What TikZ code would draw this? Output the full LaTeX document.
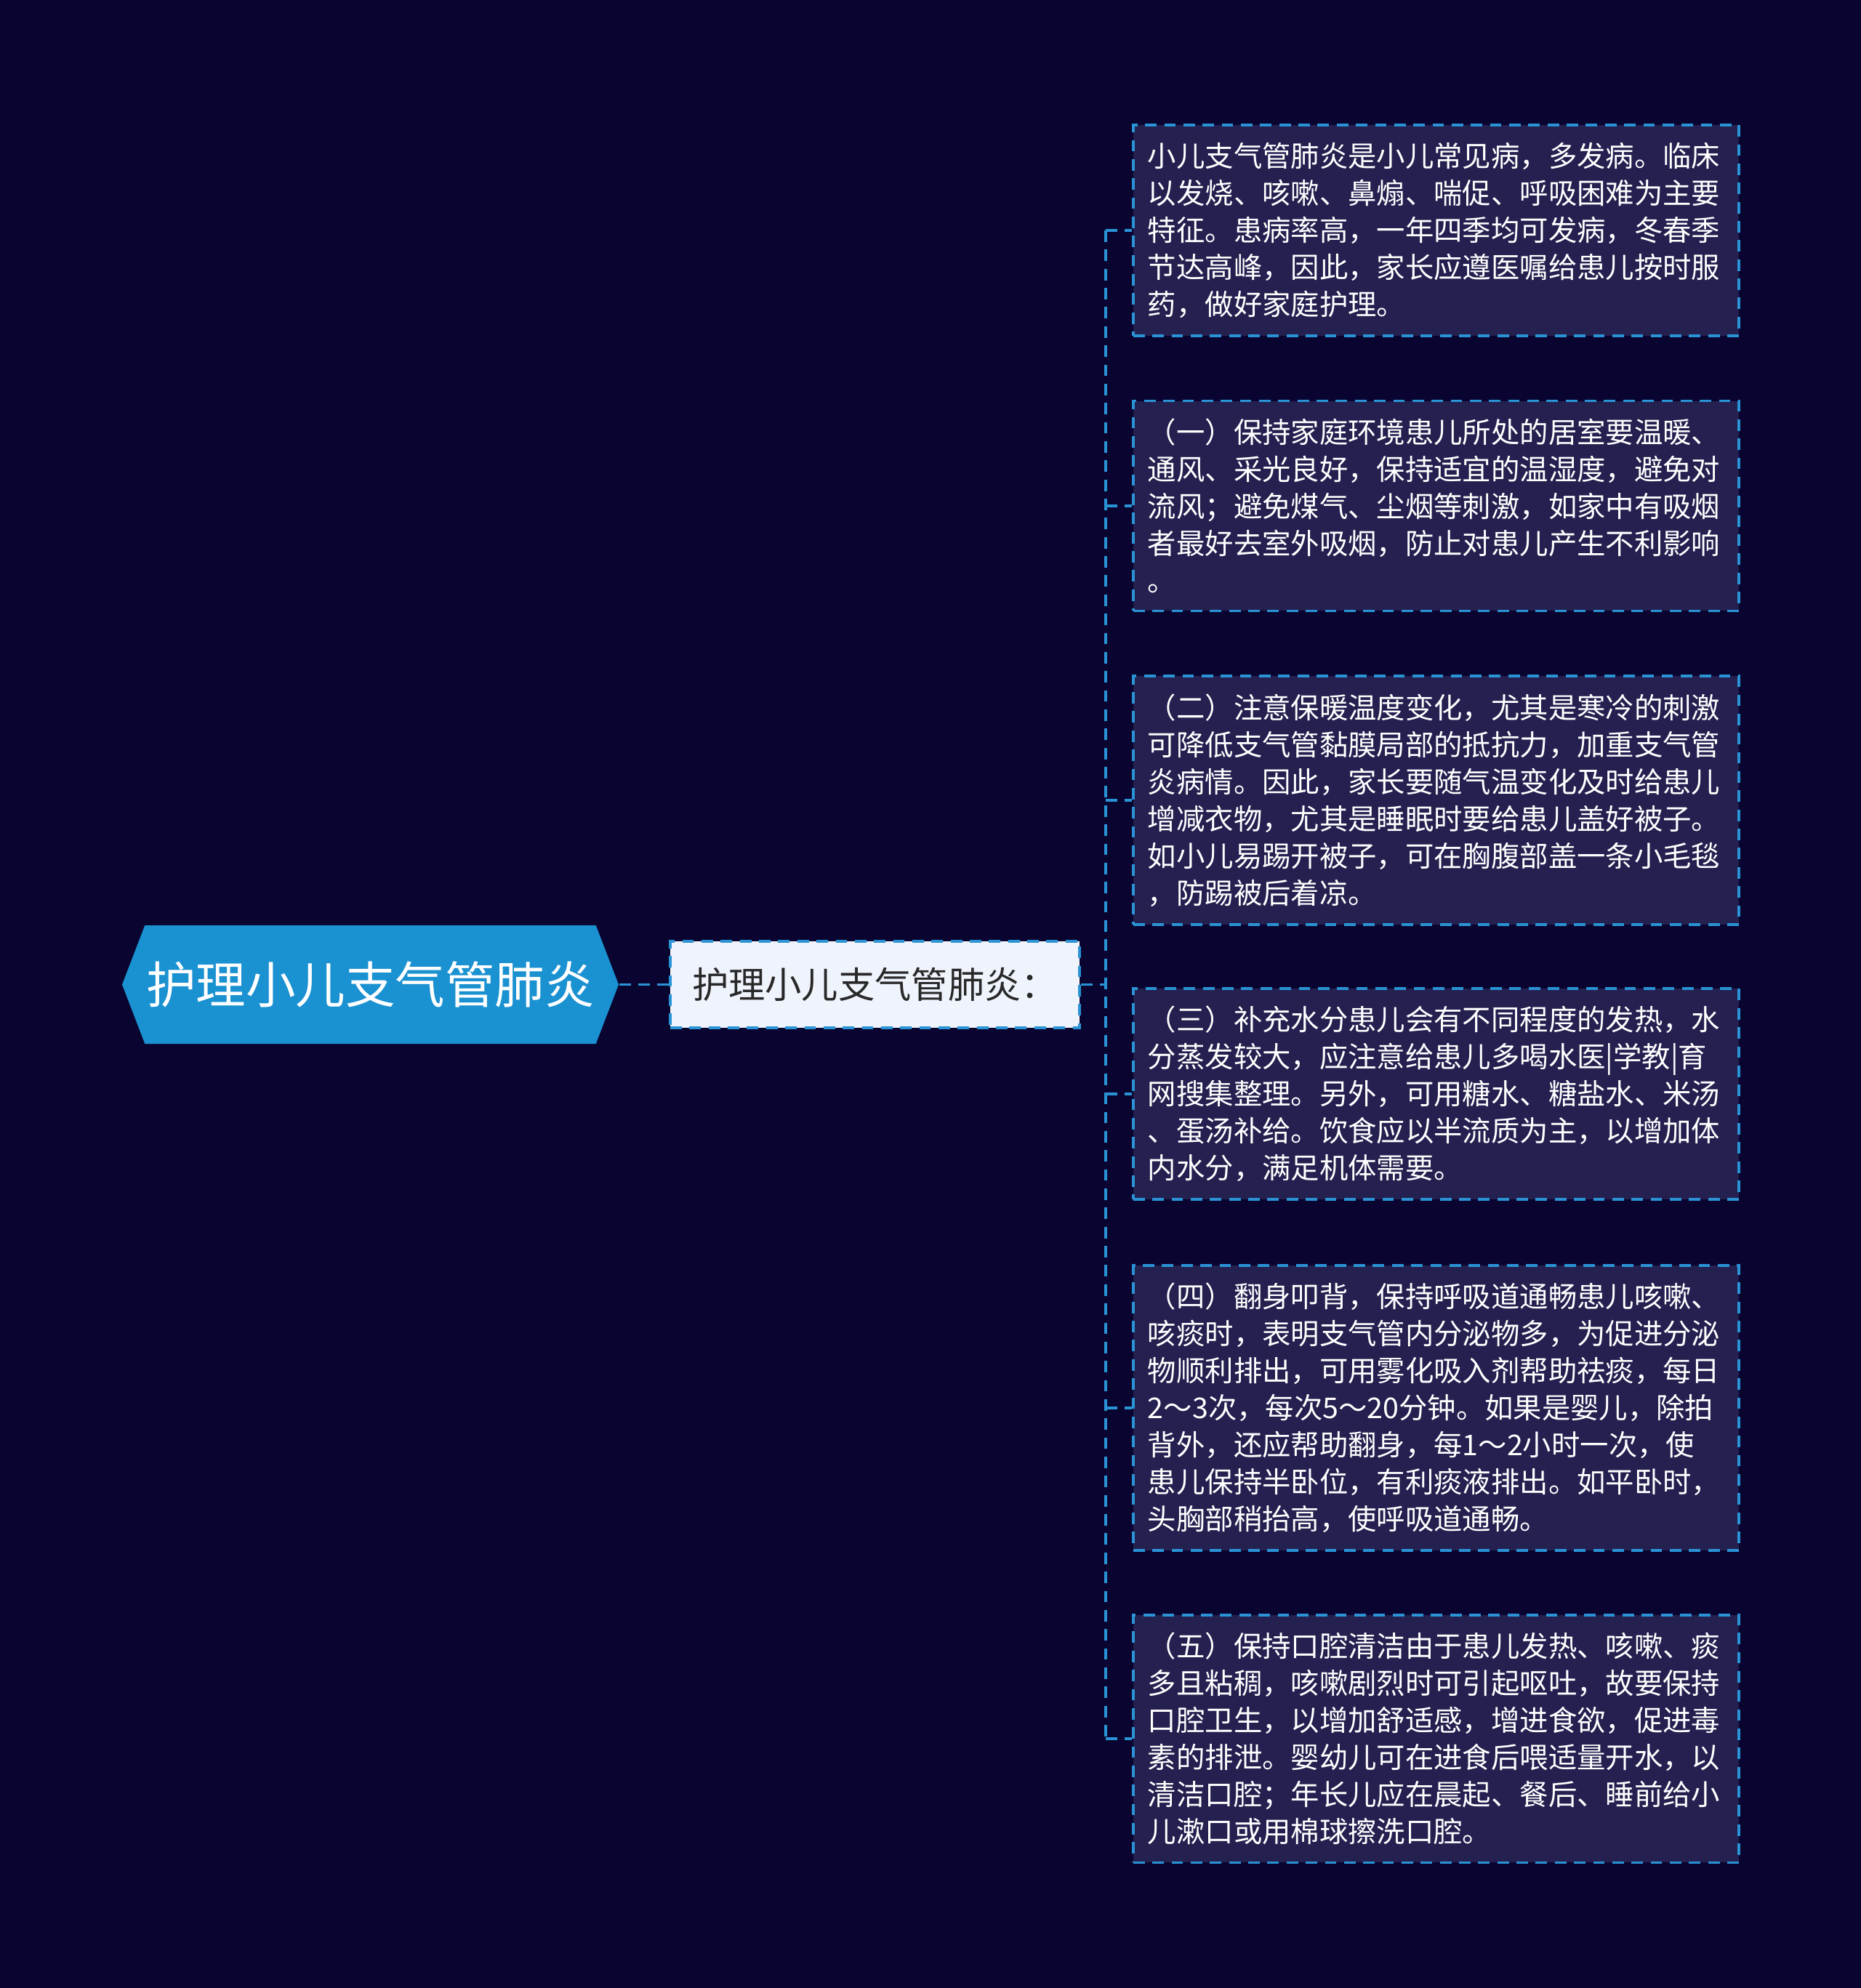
\documentclass[tikz,border=0pt]{standalone}
\usepackage{fontspec}
\setmainfont{Noto Sans CJK SC}
\usepackage{tikz}
\usetikzlibrary{shapes.symbols}

\begin{document}
\begin{tikzpicture}[
		link/.style={draw=xianlink,line width=1.1pt,dash pattern=on 4.5pt off 3pt},
		leaf/.style={link,fill=ola,anchor=west,text=white,text width=7.93cm,align=left,inner xsep=0.2cm,inner ysep=0.245cm,font=\fontsize{11.2pt}{14.5pt}\selectfont},
		rootnode/.style={shape=signal,signal to=west and east,signal pointer angle=138,fill=xanhgoc,text=white,minimum width=6.83cm,minimum height=1.63cm,inner sep=0pt,font=\fontsize{19.5pt}{23pt}\selectfont},
		midnode/.style={link,fill=ogiua,text=chuden,minimum width=5.63cm,minimum height=1.19cm,inner sep=0pt,font=\fontsize{14.3pt}{17pt}\selectfont}]
			\definecolor{nenden}{RGB}{10,5,48}
			\definecolor{xanhgoc}{RGB}{26,145,209}
			\definecolor{xianlink}{RGB}{42,147,213}
			\definecolor{ola}{RGB}{36,32,80}
			\definecolor{ogiua}{RGB}{238,243,252}
			\definecolor{chuden}{RGB}{40,40,40}
				\fill [nenden] (0,0) rectangle (25.6,-27.35);
				\useasboundingbox (0,0) rectangle (25.6,-27.35);
			
				\node [rootnode] (goc) at (5.095,-13.545) {护理小儿支气管肺炎};
				\node [midnode] (giua) at (12.035,-13.545) {护理小儿支气管肺炎：};
				\coordinate (nhanh) at (15.21,-13.545);
			
				\node [leaf] (la1) at (15.57,-3.17) {小儿支气管肺炎是小儿常见病，多发病。临床\\以发烧、咳嗽、鼻煽、喘促、呼吸困难为主要\\特征。患病率高，一年四季均可发病，冬春季\\节达高峰，因此，家长应遵医嘱给患儿按时服\\药，做好家庭护理。};
				\node [leaf] (la2) at (15.57,-6.96) {（一）保持家庭环境患儿所处的居室要温暖、\\通风、采光良好，保持适宜的温湿度，避免对\\流风；避免煤气、尘烟等刺激，如家中有吸烟\\者最好去室外吸烟，防止对患儿产生不利影响\\。};
				\node [leaf] (la3) at (15.57,-11.01) {（二）注意保暖温度变化，尤其是寒冷的刺激\\可降低支气管黏膜局部的抵抗力，加重支气管\\炎病情。因此，家长要随气温变化及时给患儿\\增减衣物，尤其是睡眠时要给患儿盖好被子。\\如小儿易踢开被子，可在胸腹部盖一条小毛毯\\，防踢被后着凉。};
				\node [leaf] (la4) at (15.57,-15.05) {（三）补充水分患儿会有不同程度的发热，水\\分蒸发较大，应注意给患儿多喝水医|学教|育\\网搜集整理。另外，可用糖水、糖盐水、米汤\\、蛋汤补给。饮食应以半流质为主，以增加体\\内水分，满足机体需要。};
				\node [leaf] (la5) at (15.57,-19.37) {（四）翻身叩背，保持呼吸道通畅患儿咳嗽、\\咳痰时，表明支气管内分泌物多，为促进分泌\\物顺利排出，可用雾化吸入剂帮助祛痰，每日\\2～3次，每次5～20分钟。如果是婴儿，除拍\\背外，还应帮助翻身，每1～2小时一次，使\\患儿保持半卧位，有利痰液排出。如平卧时，\\头胸部稍抬高，使呼吸道通畅。};
				\node [leaf] (la6) at (15.57,-23.92) {（五）保持口腔清洁由于患儿发热、咳嗽、痰\\多且粘稠，咳嗽剧烈时可引起呕吐，故要保持\\口腔卫生，以增加舒适感，增进食欲，促进毒\\素的排泄。婴幼儿可在进食后喂适量开水，以\\清洁口腔；年长儿应在晨起、餐后、睡前给小\\儿漱口或用棉球擦洗口腔。};
			
				\draw [link] (goc.east) -- (giua.west);
				\draw [link] (giua.east) -- (nhanh);
				\draw [link] (nhanh |- la1.west) -- (nhanh |- la6.west);
				\foreach \i in {1,...,6}
					\draw [link] (nhanh |- la\i.west) -- (la\i.west);
		\end{tikzpicture}
\end{document}
